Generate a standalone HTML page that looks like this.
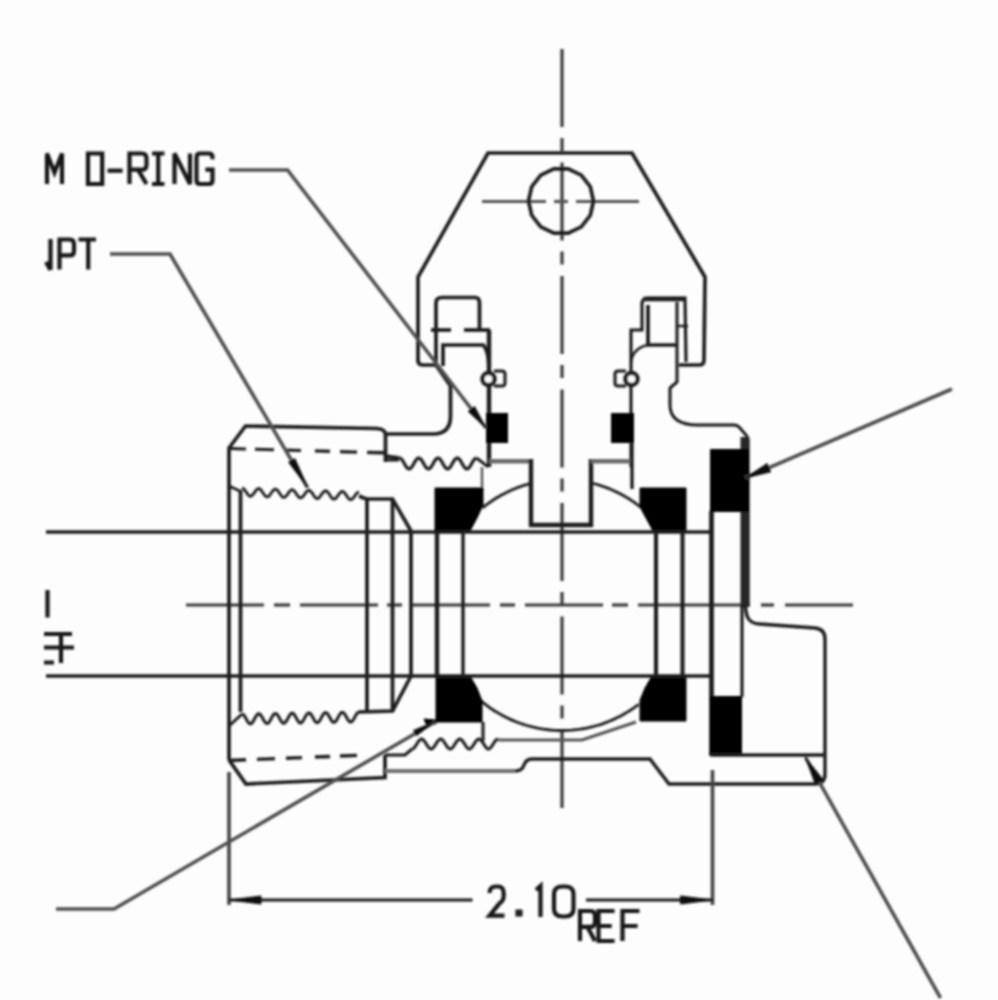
<!DOCTYPE html>
<html><head><meta charset="utf-8"><style>
html,body{margin:0;padding:0;background:#fff;}
svg{display:block;}
</style></head><body>
<svg width="998" height="1000" viewBox="0 0 998 1000" stroke-linecap="butt">
<defs><filter id="b" x="-5%" y="-5%" width="110%" height="110%"><feGaussianBlur stdDeviation="0.9"/></filter></defs>
<rect x="0" y="0" width="998" height="1000" fill="#fdfdfd"/>
<g filter="url(#b)">
<line x1="562" y1="49.0" x2="562" y2="127.0" stroke="#3a3a3a" stroke-width="3.2"/>
<line x1="562" y1="138.0" x2="562" y2="151.0" stroke="#3a3a3a" stroke-width="3.2"/>
<line x1="562" y1="162.5" x2="562" y2="240.5" stroke="#3a3a3a" stroke-width="3.2"/>
<line x1="562" y1="251.5" x2="562" y2="264.5" stroke="#3a3a3a" stroke-width="3.2"/>
<line x1="562" y1="276.0" x2="562" y2="354.0" stroke="#3a3a3a" stroke-width="3.2"/>
<line x1="562" y1="365.0" x2="562" y2="378.0" stroke="#3a3a3a" stroke-width="3.2"/>
<line x1="562" y1="389.5" x2="562" y2="467.5" stroke="#3a3a3a" stroke-width="3.2"/>
<line x1="562" y1="478.5" x2="562" y2="491.5" stroke="#3a3a3a" stroke-width="3.2"/>
<line x1="562" y1="503.0" x2="562" y2="581.0" stroke="#3a3a3a" stroke-width="3.2"/>
<line x1="562" y1="592.0" x2="562" y2="605.0" stroke="#3a3a3a" stroke-width="3.2"/>
<line x1="562" y1="616.5" x2="562" y2="694.5" stroke="#3a3a3a" stroke-width="3.2"/>
<line x1="562" y1="705.5" x2="562" y2="718.5" stroke="#3a3a3a" stroke-width="3.2"/>
<line x1="562" y1="730.0" x2="562" y2="808.0" stroke="#3a3a3a" stroke-width="3.2"/>
<line x1="186" y1="605" x2="264" y2="605" stroke="#3a3a3a" stroke-width="3.2"/>
<line x1="274" y1="605" x2="290" y2="605" stroke="#3a3a3a" stroke-width="3.2"/>
<line x1="300" y1="605" x2="378" y2="605" stroke="#3a3a3a" stroke-width="3.2"/>
<line x1="387" y1="605" x2="402" y2="605" stroke="#3a3a3a" stroke-width="3.2"/>
<line x1="412" y1="605" x2="490" y2="605" stroke="#3a3a3a" stroke-width="3.2"/>
<line x1="500" y1="605" x2="515" y2="605" stroke="#3a3a3a" stroke-width="3.2"/>
<line x1="525" y1="605" x2="603" y2="605" stroke="#3a3a3a" stroke-width="3.2"/>
<line x1="612" y1="605" x2="628" y2="605" stroke="#3a3a3a" stroke-width="3.2"/>
<line x1="638" y1="605" x2="750" y2="605" stroke="#3a3a3a" stroke-width="3.2"/>
<line x1="761" y1="605" x2="774" y2="605" stroke="#3a3a3a" stroke-width="3.2"/>
<line x1="785" y1="605" x2="853" y2="605" stroke="#3a3a3a" stroke-width="3.2"/>
<line x1="482" y1="201.5" x2="546" y2="201.5" stroke="#555" stroke-width="3.2"/>
<line x1="554" y1="201.5" x2="568" y2="201.5" stroke="#555" stroke-width="3.2"/>
<line x1="576" y1="201.5" x2="639" y2="201.5" stroke="#555" stroke-width="3.2"/>
<path d="M418,362 L418,277 L488,153 L632,153 L705,277 L704,360 Q704,365 699,365 L679,365" stroke="#1c1c1c" stroke-width="3.7" fill="none" />
<path d="M418,360 Q418,365 423,365 L436,365" stroke="#1c1c1c" stroke-width="3.7" fill="none" />
<path d="M593.5,201.0 L590.3,215.3 L581.3,226.8 L568.2,233.2 L553.8,233.2 L540.7,226.8 L531.7,215.3 L528.5,201.0 L531.7,186.7 L540.7,175.2 L553.8,168.8 L568.2,168.8 L581.3,175.2 L590.3,186.7 Z" stroke="#1c1c1c" stroke-width="3.7" fill="none" />
<path d="M436,365 L436,303 Q436,297.5 442,297.5 L475,297.5 Q479.5,297.5 479.5,303 L479.5,330" stroke="#1c1c1c" stroke-width="3.7" fill="none" />
<line x1="431" y1="330" x2="451" y2="330" stroke="#1c1c1c" stroke-width="3.7"/>
<line x1="464" y1="330" x2="490" y2="330" stroke="#1c1c1c" stroke-width="3.7"/>
<path d="M489,330 L489,467" stroke="#1c1c1c" stroke-width="4.4" fill="none" />
<path d="M443,366 L443,345 L483,345 Q489,350 489,372" stroke="#1c1c1c" stroke-width="3.7" fill="none" />
<path d="M436,365 L450.5,386 L450.5,416 Q450.5,434 433,434 L386,434" stroke="#1c1c1c" stroke-width="3.7" fill="none" />
<circle cx="488.5" cy="379" r="6" stroke="#1c1c1c" stroke-width="4.5" fill="#fff"/>
<path d="M494,371 L502,371 Q505,371 505,374 L505,383 Q505,386 502,386 L494,386" stroke="#1c1c1c" stroke-width="3" fill="none" />
<rect x="486" y="413" width="22" height="30" fill="#000"/>
<path d="M631,467 L631,330 L642,330 L642,304 Q642,298 648,298 L685,298 L686,362" stroke="#1c1c1c" stroke-width="3.2" fill="none" />
<path d="M643.5,299 L685,299" stroke="#1c1c1c" stroke-width="4.5" fill="none" />
<path d="M677,302 L677,382 L670,388 L670,405 Q670,425 698,425 L734,425 Q737,425 739,427 L746,435 Q748,437 748,441 L748,605" stroke="#1c1c1c" stroke-width="3" fill="none" />
<path d="M648,305 L648,345 L677,345" stroke="#1c1c1c" stroke-width="3.7" fill="none" />
<path d="M631,362 Q633,348 648,345" stroke="#1c1c1c" stroke-width="2.4" fill="none" />
<line x1="677" y1="326" x2="688" y2="326" stroke="#1c1c1c" stroke-width="2.4"/>
<circle cx="631.5" cy="379" r="6" stroke="#1c1c1c" stroke-width="4.5" fill="#fff"/>
<path d="M626,371 L618,371 Q615,371 615,374 L615,383 Q615,386 618,386 L626,386" stroke="#1c1c1c" stroke-width="3" fill="none" />
<rect x="611" y="413" width="23" height="30" fill="#000"/>
<line x1="229" y1="772" x2="229" y2="905" stroke="#444" stroke-width="3.6"/>
<path d="M229,760 L229,448 L245.5,426 L377,428.5 Q385.5,429 385.5,435 L385.5,462" stroke="#1c1c1c" stroke-width="3.7" fill="none" />
<line x1="229" y1="448.5" x2="246" y2="448.976" stroke="#1c1c1c" stroke-width="3.2"/>
<line x1="255" y1="449.228" x2="274" y2="449.76" stroke="#1c1c1c" stroke-width="3.2"/>
<line x1="287" y1="450.124" x2="301" y2="450.516" stroke="#1c1c1c" stroke-width="3.2"/>
<line x1="315" y1="450.908" x2="330" y2="451.32800000000003" stroke="#1c1c1c" stroke-width="3.2"/>
<line x1="340" y1="451.608" x2="357" y2="452.084" stroke="#1c1c1c" stroke-width="3.2"/>
<line x1="367" y1="452.364" x2="385" y2="452.868" stroke="#1c1c1c" stroke-width="3.2"/>
<path d="M242.0,488.0 L243.0,488.3 L244.1,489.2 L245.1,490.6 L246.2,492.1 L247.2,493.7 L248.3,495.0 L249.3,495.9 L250.4,496.3 L251.4,496.0 L252.4,495.2 L253.5,493.9 L254.5,492.4 L255.6,490.9 L256.6,489.7 L257.7,488.8 L258.7,488.6 L259.8,488.9 L260.8,489.8 L261.8,491.1 L262.9,492.7 L263.9,494.3 L265.0,495.6 L266.0,496.5 L267.1,496.9 L268.1,496.6 L269.2,495.8 L270.2,494.5 L271.2,493.0 L272.3,491.5 L273.3,490.2 L274.4,489.4 L275.4,489.1 L276.5,489.5 L277.5,490.4 L278.6,491.7 L279.6,493.3 L280.7,494.9 L281.7,496.2 L282.7,497.1 L283.8,497.4 L284.8,497.2 L285.9,496.3 L286.9,495.1 L288.0,493.6 L289.0,492.1 L290.1,490.8 L291.1,490.0 L292.1,489.7 L293.2,490.1 L294.2,491.0 L295.3,492.3 L296.3,493.9 L297.4,495.4 L298.4,496.8 L299.5,497.7 L300.5,498.0 L301.5,497.7 L302.6,496.9 L303.6,495.6 L304.7,494.1 L305.7,492.6 L306.8,491.4 L307.8,490.6 L308.9,490.3 L309.9,490.6 L310.9,491.5 L312.0,492.9 L313.0,494.4 L314.1,496.0 L315.1,497.3 L316.2,498.2 L317.2,498.6 L318.3,498.3 L319.3,497.5 L320.3,496.2 L321.4,494.7 L322.4,493.2 L323.5,492.0 L324.5,491.1 L325.6,490.9 L326.6,491.2 L327.7,492.1 L328.7,493.4 L329.8,495.0 L330.8,496.6 L331.8,497.9 L332.9,498.8 L333.9,499.1 L335.0,498.9 L336.0,498.0 L337.1,496.8 L338.1,495.3 L339.2,493.8 L340.2,492.5 L341.2,491.7 L342.3,491.4 L343.3,491.8 L344.4,492.7 L345.4,494.0 L346.5,495.6 L347.5,497.1 L348.6,498.5 L349.6,499.4 L350.6,499.7 L351.7,499.4 L352.7,498.6 L353.8,497.4 L354.8,495.9 L355.9,494.4 L356.9,493.1 L358.0,492.3 L359.0,492.0" stroke="#1c1c1c" stroke-width="2.8" fill="none" stroke-linejoin="round"/>
<path d="M229,486 L242,492" stroke="#1c1c1c" stroke-width="2.8" fill="none" />
<path d="M359,496 Q363,498 367,499 L392.5,499 L411,531" stroke="#1c1c1c" stroke-width="3.7" fill="none" />
<line x1="240.5" y1="490" x2="240.5" y2="712" stroke="#1c1c1c" stroke-width="3.7"/>
<line x1="367" y1="499" x2="367" y2="712" stroke="#1c1c1c" stroke-width="3.7"/>
<line x1="392.5" y1="499" x2="392.5" y2="712" stroke="#1c1c1c" stroke-width="3.7"/>
<line x1="411" y1="531" x2="411" y2="675" stroke="#1c1c1c" stroke-width="3.7"/>
<line x1="46" y1="532" x2="436" y2="532" stroke="#1c1c1c" stroke-width="3.7"/>
<line x1="46" y1="676" x2="436" y2="676" stroke="#1c1c1c" stroke-width="3.7"/>
<path d="M242.0,714.0 L243.0,714.4 L244.1,715.4 L245.1,717.0 L246.2,718.9 L247.2,720.8 L248.3,722.4 L249.3,723.5 L250.4,723.9 L251.4,723.5 L252.4,722.4 L253.5,720.7 L254.5,718.8 L255.6,716.9 L256.6,715.2 L257.7,714.1 L258.7,713.7 L259.8,714.1 L260.8,715.1 L261.8,716.7 L262.9,718.6 L263.9,720.5 L265.0,722.1 L266.0,723.2 L267.1,723.6 L268.1,723.2 L269.2,722.1 L270.2,720.4 L271.2,718.5 L272.3,716.6 L273.3,714.9 L274.4,713.8 L275.4,713.4 L276.5,713.8 L277.5,714.9 L278.6,716.5 L279.6,718.4 L280.7,720.3 L281.7,721.9 L282.7,722.9 L283.8,723.3 L284.8,722.9 L285.9,721.8 L286.9,720.1 L288.0,718.2 L289.0,716.3 L290.1,714.6 L291.1,713.5 L292.1,713.1 L293.2,713.5 L294.2,714.6 L295.3,716.2 L296.3,718.1 L297.4,720.0 L298.4,721.6 L299.5,722.6 L300.5,723.0 L301.5,722.6 L302.6,721.5 L303.6,719.9 L304.7,717.9 L305.7,716.0 L306.8,714.4 L307.8,713.3 L308.9,712.9 L309.9,713.2 L310.9,714.3 L312.0,715.9 L313.0,717.8 L314.1,719.7 L315.1,721.3 L316.2,722.4 L317.2,722.7 L318.3,722.3 L319.3,721.2 L320.3,719.6 L321.4,717.6 L322.4,715.7 L323.5,714.1 L324.5,713.0 L325.6,712.6 L326.6,712.9 L327.7,714.0 L328.7,715.6 L329.8,717.5 L330.8,719.4 L331.8,721.0 L332.9,722.1 L333.9,722.4 L335.0,722.0 L336.0,720.9 L337.1,719.3 L338.1,717.4 L339.2,715.4 L340.2,713.8 L341.2,712.7 L342.3,712.3 L343.3,712.6 L344.4,713.7 L345.4,715.3 L346.5,717.2 L347.5,719.1 L348.6,720.7 L349.6,721.8 L350.6,722.1 L351.7,721.7 L352.7,720.6 L353.8,719.0 L354.8,717.1 L355.9,715.1 L356.9,713.5 L358.0,712.4 L359.0,712.0" stroke="#1c1c1c" stroke-width="3.0" fill="none" stroke-linejoin="round"/>
<path d="M229,726 L242,714" stroke="#1c1c1c" stroke-width="3.0" fill="none" />
<path d="M359,712 L392.5,711 L411,676" stroke="#1c1c1c" stroke-width="3.7" fill="none" />
<line x1="229" y1="760.5" x2="246" y2="759.82" stroke="#1c1c1c" stroke-width="3.4"/>
<line x1="257" y1="759.38" x2="275" y2="758.66" stroke="#1c1c1c" stroke-width="3.4"/>
<line x1="286" y1="758.22" x2="302" y2="757.58" stroke="#1c1c1c" stroke-width="3.4"/>
<line x1="315" y1="757.06" x2="330" y2="756.4599999999999" stroke="#1c1c1c" stroke-width="3.4"/>
<line x1="340" y1="756.06" x2="357" y2="755.38" stroke="#1c1c1c" stroke-width="3.4"/>
<path d="M229,760 L246,784 L385,777.5 L385,755" stroke="#1c1c1c" stroke-width="3.7" fill="none" />
<line x1="370" y1="452.5" x2="385.5" y2="452.5" stroke="#1c1c1c" stroke-width="3.2"/>
<path d="M385.5,456 L399.5,458" stroke="#1c1c1c" stroke-width="3.6" fill="none" />
<path d="M385.5,460 L399,460" stroke="#1c1c1c" stroke-width="3.0" fill="none" />
<path d="M399.5,458.0 L400.7,458.4 L401.9,459.6 L403.1,461.4 L404.3,463.5 L405.5,465.6 L406.7,467.4 L407.9,468.6 L409.1,469.0 L410.3,468.6 L411.5,467.4 L412.7,465.6 L413.9,463.5 L415.1,461.4 L416.3,459.6 L417.5,458.4 L418.8,458.0 L420.0,458.4 L421.2,459.6 L422.4,461.4 L423.6,463.5 L424.8,465.6 L426.0,467.4 L427.2,468.6 L428.4,469.0 L429.6,468.6 L430.8,467.4 L432.0,465.6 L433.2,463.5 L434.4,461.4 L435.6,459.6 L436.8,458.4 L438.0,458.0 L439.2,458.4 L440.4,459.6 L441.6,461.4 L442.8,463.5 L444.0,465.6 L445.2,467.4 L446.4,468.6 L447.6,469.0 L448.8,468.6 L450.0,467.4 L451.2,465.6 L452.4,463.5 L453.6,461.4 L454.8,459.6 L456.0,458.4 L457.2,458.0 L458.5,458.4 L459.7,459.6 L460.9,461.4 L462.1,463.5 L463.3,465.6 L464.5,467.4 L465.7,468.6 L466.9,469.0 L468.1,468.6 L469.3,467.4 L470.5,465.6 L471.7,463.5 L472.9,461.4 L474.1,459.6 L475.3,458.4 L476.5,458.0" stroke="#1c1c1c" stroke-width="3.2" fill="none" stroke-linejoin="round"/>
<path d="M476.5,458 Q482,462 488,467" stroke="#1c1c1c" stroke-width="2.8" fill="none" />
<line x1="489" y1="461.3" x2="531" y2="461.3" stroke="#6a6a6a" stroke-width="4.4"/>
<line x1="482" y1="467" x2="482" y2="489" stroke="#555555" stroke-width="2.4"/>
<path d="M531,459 L531,525 L591,525 L591,459" stroke="#1c1c1c" stroke-width="4.4" fill="none" />
<line x1="591" y1="461.3" x2="632" y2="461.3" stroke="#6a6a6a" stroke-width="4.4"/>
<line x1="632" y1="442" x2="632" y2="489" stroke="#1c1c1c" stroke-width="3.4"/>
<path d="M482.6,507.8 L484.4,506.4 L486.2,505.0 L488.0,503.6 L489.9,502.3 L491.8,501.0 L493.7,499.7 L495.6,498.5 L497.5,497.3 L499.5,496.2 L501.5,495.0 L503.5,494.0 L505.5,492.9 L507.6,491.9 L509.6,490.9 L511.7,490.0 L513.8,489.1 L515.9,488.3 L518.1,487.4 L520.2,486.7 L522.3,485.9 L524.5,485.2 L526.7,484.6 L528.9,483.9 L531.1,483.4" stroke="#1c1c1c" stroke-width="2.8" fill="none" />
<path d="M591.0,482.9 L593.3,483.5 L595.5,484.0 L597.7,484.7 L599.9,485.3 L602.1,486.1 L604.2,486.8 L606.4,487.6 L608.5,488.4 L610.6,489.3 L612.7,490.2 L614.8,491.2 L616.9,492.1 L619.0,493.2 L621.0,494.2 L623.0,495.3 L625.0,496.5 L627.0,497.6 L628.9,498.8 L630.9,500.1 L632.8,501.4 L634.7,502.7 L636.5,504.0 L638.3,505.4 L640.2,506.8" stroke="#1c1c1c" stroke-width="2.8" fill="none" />
<path d="M480.6,700.5 L483.9,703.2 L487.3,705.8 L490.7,708.3 L494.3,710.7 L498.0,712.9 L501.7,715.0 L505.5,717.0 L509.3,718.9 L513.2,720.6 L517.2,722.2 L521.2,723.7 L525.3,725.0 L529.4,726.2 L533.5,727.2 L537.7,728.1 L541.9,728.9 L546.2,729.5 L550.4,730.0 L554.7,730.3 L559.0,730.5 L563.2,730.5 L567.5,730.4 L571.8,730.1 L576.0,729.7 L580.3,729.2 L584.5,728.5 L588.7,727.6 L592.9,726.6 L597.0,725.5 L601.1,724.3 L605.1,722.9 L609.1,721.3 L613.1,719.6 L616.9,717.8 L620.7,715.9 L624.5,713.8 L628.2,711.6 L631.8,709.3 L635.3,706.9 L638.7,704.3" stroke="#1c1c1c" stroke-width="2.8" fill="none" />
<polygon points="435,488 483,488 483,505 477,518 470,531 435,531" fill="#000" stroke="#000" stroke-width="1"/>
<polygon points="640,488 686,488 686,531 653,531 646,518 640,507" fill="#000" stroke="#000" stroke-width="1"/>
<polygon points="436,676 470,676 477,688 482,701 482,722 436,722" fill="#000" stroke="#000" stroke-width="1"/>
<polygon points="686,676 686,721 640,721 640,700 645,688 652,676" fill="#000" stroke="#000" stroke-width="1"/>
<line x1="437" y1="531" x2="437" y2="676" stroke="#1c1c1c" stroke-width="4.4"/>
<line x1="463" y1="531" x2="463" y2="676" stroke="#1c1c1c" stroke-width="3.4"/>
<line x1="656" y1="531" x2="656" y2="676" stroke="#1c1c1c" stroke-width="4.0"/>
<line x1="682.5" y1="531" x2="682.5" y2="676" stroke="#1c1c1c" stroke-width="4.0"/>
<line x1="532" y1="532" x2="710" y2="532" stroke="#1c1c1c" stroke-width="3.7"/>
<line x1="532" y1="676" x2="710" y2="676" stroke="#1c1c1c" stroke-width="3.7"/>
<line x1="436" y1="532" x2="532" y2="532" stroke="#1c1c1c" stroke-width="3.7"/>
<line x1="436" y1="676" x2="532" y2="676" stroke="#1c1c1c" stroke-width="3.7"/>
<line x1="711.5" y1="511" x2="711.5" y2="756" stroke="#1c1c1c" stroke-width="4.8"/>
<rect x="740.5" y="437" width="9" height="170" fill="#262626"/>
<rect x="710" y="449" width="39" height="63" fill="#000"/>
<line x1="742" y1="605" x2="742" y2="697" stroke="#1c1c1c" stroke-width="3.2"/>
<rect x="710" y="696" width="32" height="60" fill="#000"/>
<path d="M745,605 L747,616 Q750,624 760,624 L815,628 Q825,629 825,639 L825,774 Q825,784 815,784 L669,784 L650,759 L532,759 Q526,759 524,765 Q522,771 515,771" stroke="#1c1c1c" stroke-width="3.4" fill="none" />
<path d="M515,771 L385,771" stroke="#707070" stroke-width="4.2" fill="none" />
<line x1="711" y1="755" x2="825" y2="755" stroke="#1c1c1c" stroke-width="3.7"/>
<path d="M412.0,749.0 L413.2,748.6 L414.4,747.5 L415.6,745.9 L416.8,744.0 L418.0,742.1 L419.2,740.5 L420.4,739.4 L421.6,739.0 L422.8,739.4 L423.9,740.5 L425.1,742.1 L426.3,744.0 L427.5,745.9 L428.7,747.5 L429.9,748.6 L431.1,749.0 L432.3,748.6 L433.5,747.5 L434.7,745.9 L435.9,744.0 L437.1,742.1 L438.3,740.5 L439.5,739.4 L440.7,739.0 L441.9,739.4 L443.1,740.5 L444.2,742.1 L445.4,744.0 L446.6,745.9 L447.8,747.5 L449.0,748.6 L450.2,749.0 L451.4,748.6 L452.6,747.5 L453.8,745.9 L455.0,744.0 L456.2,742.1 L457.4,740.5 L458.6,739.4 L459.8,739.0 L461.0,739.4 L462.2,740.5 L463.4,742.1 L464.6,744.0 L465.8,745.9 L466.9,747.5 L468.1,748.6 L469.3,749.0 L470.5,748.6 L471.7,747.5 L472.9,745.9 L474.1,744.0 L475.3,742.1 L476.5,740.5 L477.7,739.4 L478.9,739.0 L480.1,739.4 L481.3,740.5 L482.5,742.1 L483.7,744.0 L484.9,745.9 L486.1,747.5 L487.2,748.6 L488.4,749.0 L489.6,748.6 L490.8,747.5 L492.0,745.9 L493.2,744.0 L494.4,742.1 L495.6,740.5 L496.8,739.4 L498.0,739.0" stroke="#1c1c1c" stroke-width="3.0" fill="none" stroke-linejoin="round"/>
<line x1="483" y1="722" x2="483" y2="741" stroke="#1c1c1c" stroke-width="3.0"/>
<path d="M498,740 L582,740 L636,722" stroke="#555555" stroke-width="3.2" fill="none" />
<path d="M385,755 L405,755 L412,749" stroke="#1c1c1c" stroke-width="3.0" fill="none" />
<polygon points="424,719 436,720 436,724 426,724" fill="#000" stroke="#000" stroke-width="1"/>
<path d="M229,170 L287.5,170 L486,428" stroke="#505050" stroke-width="3.6" fill="none" />
<polygon points="486,428 474.53542783631883,406.5392547868498 468.1948927490097,411.41753468929505" fill="#111" stroke="#111" stroke-width="1"/>
<path d="M110,254 L170,254 L307.5,487.5" stroke="#505050" stroke-width="3.6" fill="none" />
<polygon points="308,488 294.8453966139643,458.60754501991886 288.64356210960085,462.2650371635178" fill="#111" stroke="#111" stroke-width="1"/>
<path d="M745,478 L952,389" stroke="#505050" stroke-width="3.6" fill="none" />
<polygon points="745,478 770.6632739359515,471.86433614933804 767.1083612817885,463.5961685154985" fill="#111" stroke="#111" stroke-width="1"/>
<path d="M56,909 L114,909 L435,722" stroke="#505050" stroke-width="3.6" fill="none" />
<polygon points="434,722 413.4918557194962,730.5097601711234 416.51910711835495,735.6900834205073" fill="#111" stroke="#111" stroke-width="1"/>
<path d="M805.5,757.5 L940.5,998" stroke="#505050" stroke-width="3.6" fill="none" />
<polygon points="805.5,757.5 815.2815696733576,784.1189949984076 823.1296681101965,779.7136174974793" fill="#111" stroke="#111" stroke-width="1"/>
<line x1="712.5" y1="770" x2="712.5" y2="905" stroke="#444" stroke-width="3.6"/>
<line x1="229" y1="900" x2="472.5" y2="900" stroke="#1c1c1c" stroke-width="3"/>
<line x1="586" y1="900" x2="712.5" y2="900" stroke="#1c1c1c" stroke-width="3"/>
<polygon points="229,900 261.0,904.0 261.0,896.0" fill="#111" stroke="#111" stroke-width="1"/>
<polygon points="712.5,900 680.5,896.0 680.5,904.0" fill="#111" stroke="#111" stroke-width="1"/>
<path d="M47.0,184.0 V153.5 L54.5,172.5625 L62.0,153.5 V184.0" stroke="#161616" stroke-width="4.2" fill="none" stroke-linejoin="miter"/>
<path d="M88.0,153.5 H102.16666666666667 V184.0 H88.0 Z" stroke="#161616" stroke-width="4.2" fill="none" stroke-linejoin="miter"/>
<path d="M107.5,170.65625 H122.61111111111111" stroke="#161616" stroke-width="4.2" fill="none" stroke-linejoin="miter"/>
<path d="M129.5,184.0 V153.5 H141.77777777777777 Q146.5,153.5 146.5,158.265625 V164.9375 Q146.5,169.703125 141.77777777777777,169.703125 H129.5 M138.0,169.703125 L146.5,184.0" stroke="#161616" stroke-width="4.2" fill="none" stroke-linejoin="miter"/>
<path d="M152.0,153.5 H164.44444444444446 M158.22222222222223,153.5 V184.0 M152.0,184.0 H164.44444444444446" stroke="#161616" stroke-width="4.2" fill="none" stroke-linejoin="miter"/>
<path d="M174.5,184.0 V153.5 L190.0,184.0 V153.5" stroke="#161616" stroke-width="4.2" fill="none" stroke-linejoin="miter"/>
<path d="M212.5,159.21875 V157.3125 Q212.5,153.5 208.94444444444446,153.5 H200.05555555555554 Q196.5,153.5 196.5,157.3125 V180.1875 Q196.5,184.0 200.05555555555554,184.0 H208.94444444444446 Q212.5,184.0 212.5,180.1875 V169.703125 H205.38888888888889" stroke="#161616" stroke-width="4.2" fill="none" stroke-linejoin="miter"/>
<path d="M50.5,239 V270 M50.5,270 L46,262" stroke="#161616" stroke-width="4.2" fill="none" />
<path d="M59.5,269.5 V239.5 H69.97222222222223 Q74.0,239.5 74.0,244.1875 V250.75 Q74.0,255.4375 69.97222222222223,255.4375 H59.5" stroke="#161616" stroke-width="4.2" fill="none" stroke-linejoin="miter"/>
<path d="M78.5,239.5 H96.0 M88.22222222222223,239.5 V269.5" stroke="#161616" stroke-width="4.2" fill="none" stroke-linejoin="miter"/>
<line x1="47.5" y1="590" x2="47.5" y2="617.5" stroke="#161616" stroke-width="4.2"/>
<path d="M44,634 H72 M44,647.5 H74 M44,662.5 H54 M61,634 V663" stroke="#161616" stroke-width="4.2" fill="none" />
<path d="M489.5,893.0625 Q489.5,886.5 496.1666666666667,886.5 H497.8333333333333 Q503.6666666666667,886.5 503.6666666666667,893.0625 V895.875 Q503.6666666666667,900.5625 499.5,903.375 L489.5,915.5625 H504.5" stroke="#161616" stroke-width="4.2" fill="none" stroke-linejoin="miter"/>
<path d="M517,911 H521 V915 H517 Z" stroke="#161616" stroke-width="3" fill="none" />
<path d="M536,890 L540.5,886 V917" stroke="#161616" stroke-width="4.2" fill="none" />
<path d="M562.6666666666666,886.5 H564.8333333333334 Q573.5,886.5 573.5,894.0 V909.0 Q573.5,916.5 564.8333333333334,916.5 H562.6666666666666 Q554.0,916.5 554.0,909.0 V894.0 Q554.0,886.5 562.6666666666666,886.5 Z" stroke="#161616" stroke-width="4.2" fill="none" stroke-linejoin="miter"/>
<path d="M580.0,941.0 V911.0 H590.8333333333334 Q595.0,911.0 595.0,915.6875 V922.25 Q595.0,926.9375 590.8333333333334,926.9375 H580.0 M587.5,926.9375 L595.0,941.0" stroke="#161616" stroke-width="4.2" fill="none" stroke-linejoin="miter"/>
<path d="M614.5555555555555,911.0 H598.5 V941.0 H614.5555555555555 M598.5,926.0 H611.7222222222222" stroke="#161616" stroke-width="4.2" fill="none" stroke-linejoin="miter"/>
<path d="M639.5,911.0 H622.5 V941.0 M622.5,926.0 H637.6111111111111" stroke="#161616" stroke-width="4.2" fill="none" stroke-linejoin="miter"/>
</g>
</svg>
</body></html>
